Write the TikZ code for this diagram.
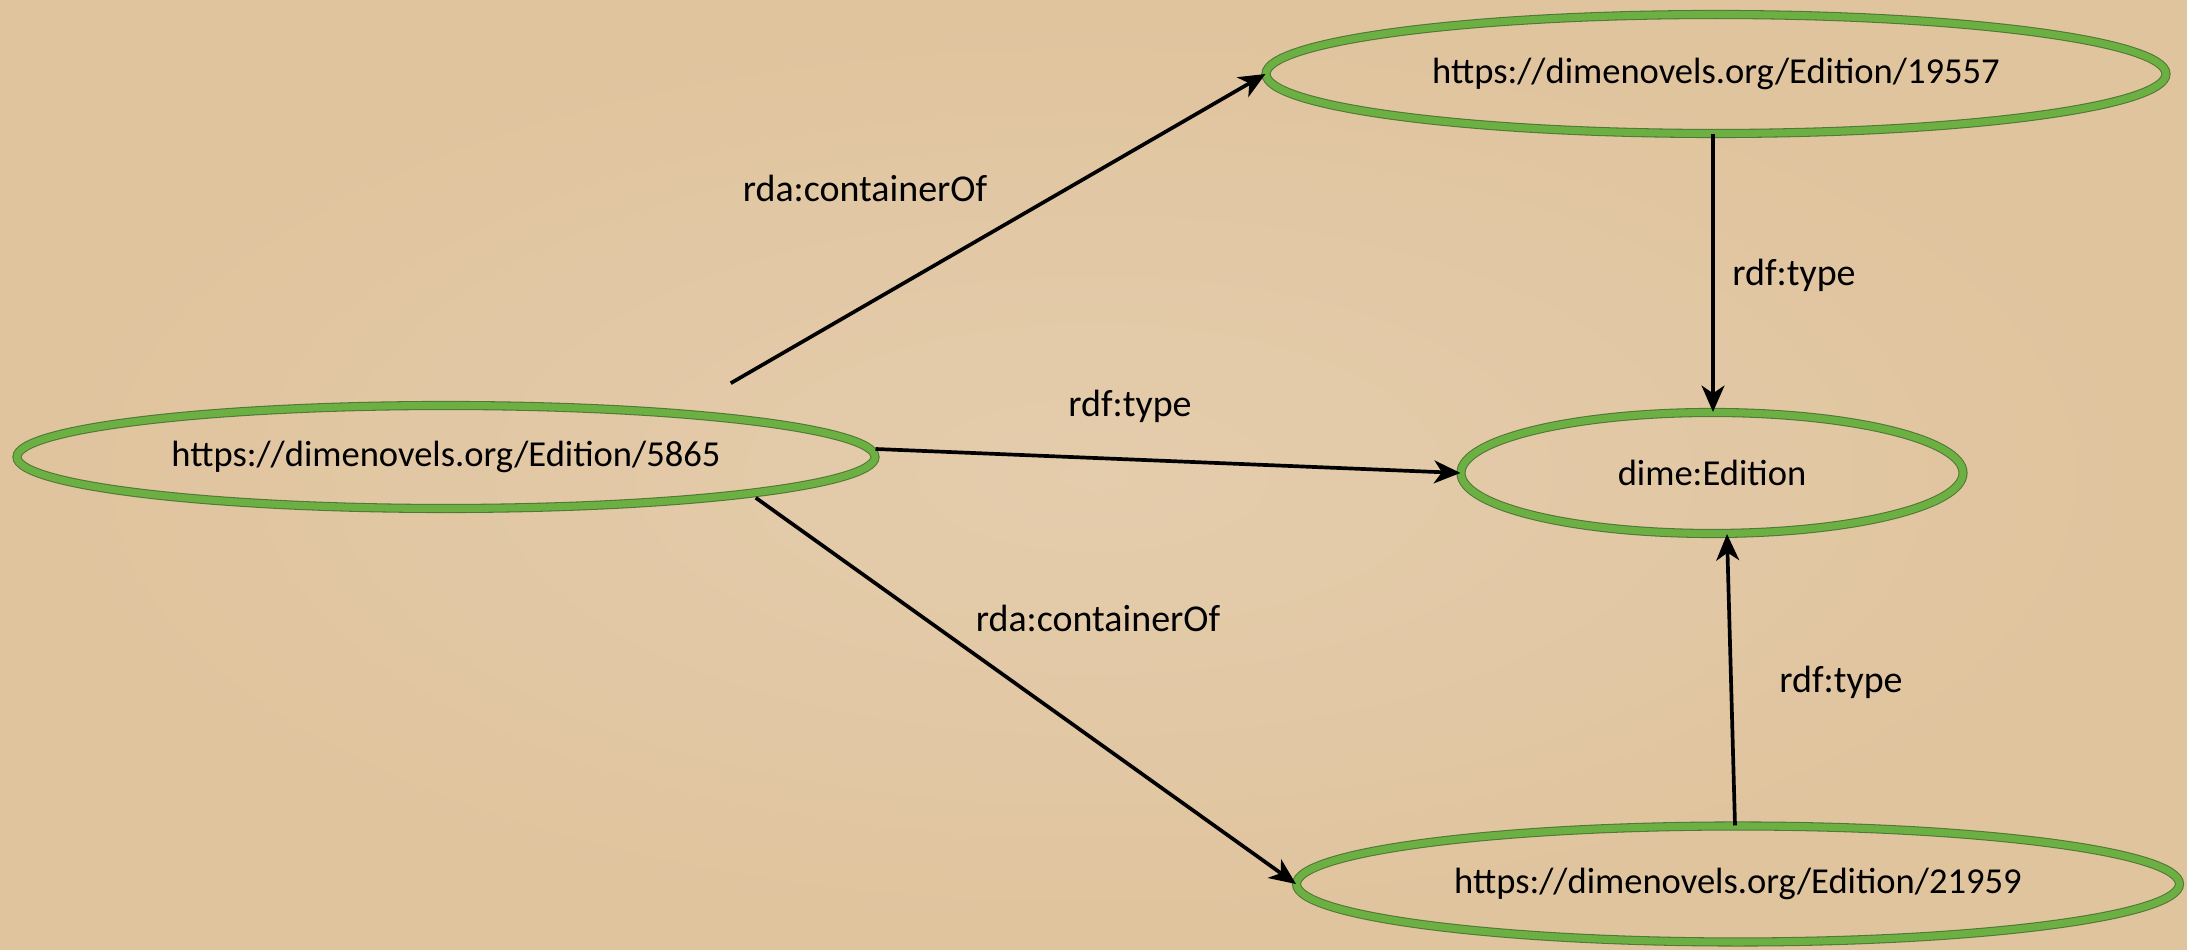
\documentclass[tikz,border=0pt]{standalone}
\usepackage{fontspec}
\setmainfont{Carlito}
\usetikzlibrary{shapes.geometric,arrows.meta}

\definecolor{paper}{RGB}{224,196,158}
\definecolor{rimgreen}{RGB}{108,176,68}
\definecolor{rimdark}{RGB}{78,120,52}

\tikzset{
  uri/.style={ellipse, draw=rimdark, double=rimgreen, double distance=2pt,
    line width=0.3pt, inner sep=0pt, font=\fontsize{10.4}{12}\selectfont},
  rel/.style={line width=1.05pt, -{Stealth[length=7.5pt,width=6.5pt,inset=2.2pt]}},
  lbl/.style={font=\fontsize{10.8}{13}\selectfont}
}

\begin{document}
\begin{tikzpicture}
\useasboundingbox (0,0) rectangle (21.87,9.5);
\fill[paper] (0,0) rectangle (21.87,9.5);
\shade[inner color=paper!75!white, outer color=paper, opacity=0.6] (0,0) rectangle (21.87,9.5);

\node[uri, minimum width=8.58cm, minimum height=1.03cm] (ed5865) at (4.46,4.93) {https://dimenovels.org/Edition/5865};
\node[uri, minimum width=9.0cm, minimum height=1.19cm] (ed19557) at (17.16,8.76) {https://dimenovels.org/Edition/19557};
\node[uri, minimum width=5.02cm, minimum height=1.21cm] (dimeEd) at (17.12,4.77) {dime:Edition};
\node[uri, minimum width=8.83cm, minimum height=1.16cm] (ed21959) at (17.38,0.66) {https://dimenovels.org/Edition/21959};

\draw[rel] ([shift={(-0.19,0.37)}]ed5865.north east) -- (ed19557.west);
\draw[rel] ([yshift=0.08cm]ed5865.east) -- (dimeEd.west);
\draw[rel] ([shift={(0.06,-0.04)}]ed5865.south east) -- (ed21959.west);
\draw[rel] ([xshift=-0.03cm]ed19557.south) -- ([xshift=0.01cm]dimeEd.north);
\draw[rel] ([xshift=-0.03cm]ed21959.north) -- ([xshift=0.15cm]dimeEd.south);

\node[lbl] (lblA) at (8.65,7.62) {rda:containerOf};
\node[lbl] (lblB) at (11.30,5.44) {rdf:type};
\node[lbl] (lblC) at (10.98,3.32) {rda:containerOf};
\node[lbl] (lblD) at (17.94,6.75) {rdf:type};
\node[lbl] (lblE) at (18.41,2.68) {rdf:type};
\end{tikzpicture}
\end{document}
